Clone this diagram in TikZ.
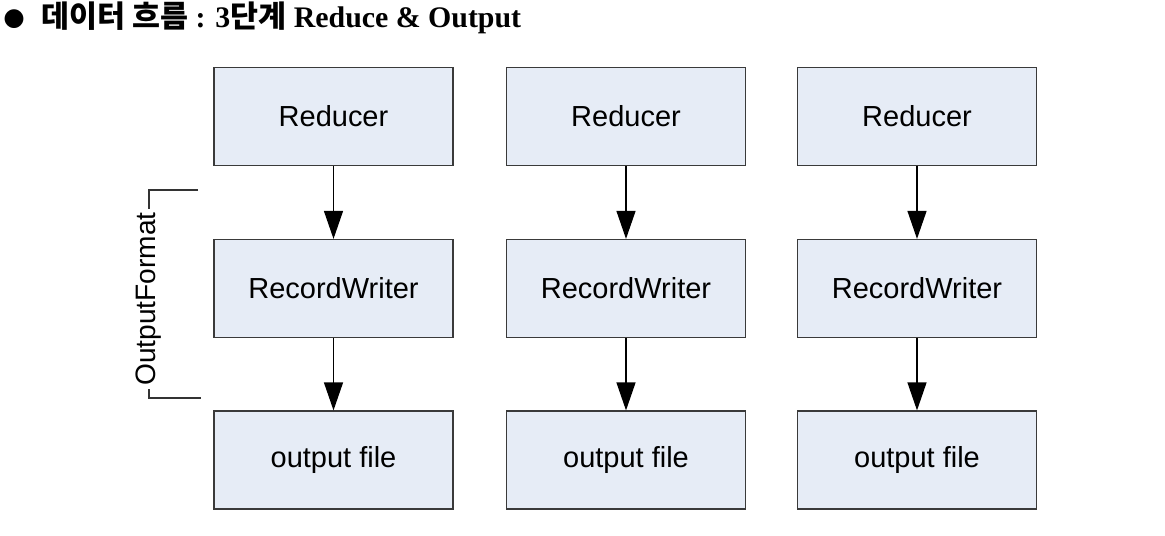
\documentclass[tikz,border=0pt]{standalone}
\usepackage{fontspec}
\setmainfont{Liberation Serif}
\setsansfont{Liberation Sans}
\newfontfamily\kofont{Noto Sans CJK KR}
\newfontfamily\symfont{DejaVu Sans}
\usetikzlibrary{arrows.meta}
\definecolor{boxfill}{HTML}{E6ECF6}
\definecolor{boxline}{HTML}{3A3A3A}
\tikzset{
  stagebox/.style={draw=boxline, line width=0.7pt, fill=boxfill,
    minimum width=239*0.02cm, minimum height=98*0.02cm, inner sep=0pt,
    font=\sffamily\fontsize{16.5}{18}\selectfont},
  flow/.style={line width=0.7pt, -{Triangle[length=0.56cm,width=0.38cm]}},
  bracketline/.style={line width=0.6pt, draw=black!80}
}
\newcommand{\kor}[1]{{\kofont\fontsize{17.3}{20}\selectfont\bfseries #1}}
\begin{document}
\begin{tikzpicture}[x=0.02cm, y=-0.02cm]
\useasboundingbox (0,0) rectangle (1165,535);
% heading
\node[anchor=west, inner sep=0pt] (bullet) at (3,19) {\symfont\fontsize{14}{16}\selectfont ●};
\node[anchor=west, inner sep=0pt] (title) at (41,18)
  {\fontsize{17}{20}\selectfont\bfseries\kor{데이터 흐름} : 3\kor{단계} Reduce \& Output};
% three reduce pipelines
\foreach \i/\cx in {1/333.5, 2/626, 3/917} {
  \node[stagebox] (red\i) at (\cx,116.5) {Reducer};
  \node[stagebox] (rw\i)  at (\cx,288.5) {RecordWriter};
  \node[stagebox] (out\i) at (\cx,460) {output file};
  \draw[flow] (red\i) -- (rw\i);
  \draw[flow] (rw\i) -- (out\i);
}
% OutputFormat bracket
\coordinate (bt) at (149,190);
\coordinate (bb) at (149,398);
\draw[bracketline] (198,190) -- (bt) -- (bb) -- (201,398);
\node[rotate=90, fill=white, inner sep=2pt, font=\sffamily\fontsize{16}{18}\selectfont] (of) at (149,299) {OutputFormat};
\end{tikzpicture}
\end{document}
